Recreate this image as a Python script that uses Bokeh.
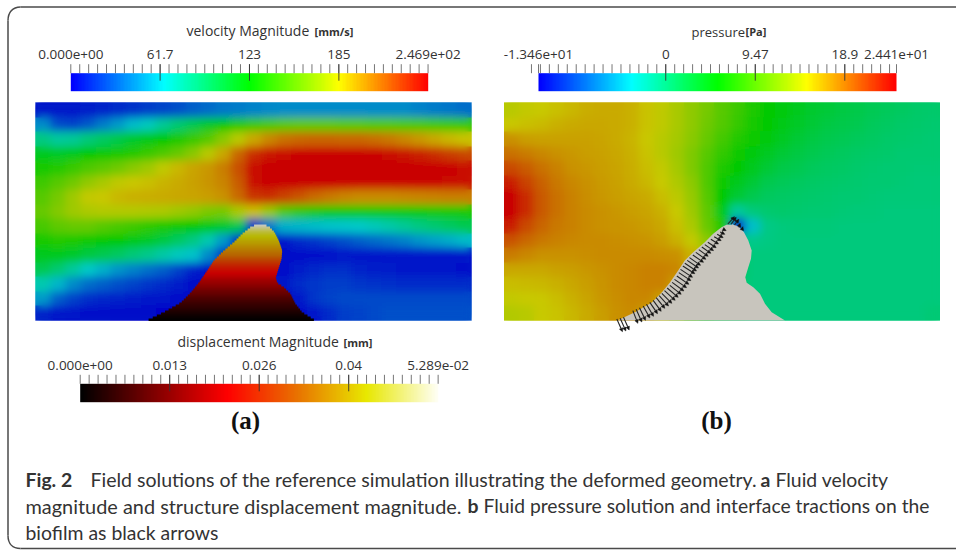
import numpy as np
from bokeh.plotting import figure
from bokeh.io import curdoc
from bokeh.models import Range1d, LinearColorMapper, ColumnDataSource, Arrow, NormalHead, CustomJS
from bokeh.core.properties import value
from bokeh.embed import file_html
from bokeh.resources import INLINE

# ---------- data ----------
VEL_MIN, VEL_MAX = 0.0, 246.9
VEL_MAJOR = [61.7, 123.45, 185.2]
VEL_LABELS = ["0.000e+00", "61.7", "123", "185", "2.469e+02"]
PRS_MIN, PRS_MAX = -13.46, 24.41
PRS_MAJOR = [0.0, 9.47, 18.94]
PRS_LABELS = ["-1.346e+01", "0", "9.47", "18.9", "2.441e+01"]
DSP_MIN, DSP_MAX = 0.0, 0.05289
DSP_MAJOR = [0.01322, 0.02645, 0.03967]
DSP_LABELS = ["0.000e+00", "0.013", "0.026", "0.04", "5.289e-02"]

# fluid speed, mm/s, top row first
VELOCITY = [
 [8,8,8,10,12,14,17,20,23,26,30,34,38,40,42,44,45,45,45,45,45,45,45,45,45,42,40,38,35],
 [45,25,22,28,40,50,60,68,80,90,100,112,125,135,140,145,150,152,152,152,150,150,148,148,146,145,142,140,138],
 [85,78,80,88,95,102,110,118,125,132,140,150,165,180,195,205,212,215,216,216,215,215,213,210,205,200,195,190,187],
 [115,112,115,122,126,130,135,140,147,155,165,180,195,215,232,240,244,246,246,246,246,246,246,244,240,236,232,228,224],
 [130,135,140,147,152,158,165,172,182,190,196,200,208,222,242,246,246,246,246,246,246,246,246,246,246,246,246,245,244],
 [142,150,158,168,175,182,186,188,191,194,197,201,206,218,242,246,246,246,246,246,246,246,246,246,246,246,246,244,242],
 [150,160,172,183,186,190,192,193,194,195,196,198,202,214,230,232,226,220,214,210,206,204,204,204,205,206,207,208,208],
 [155,163,172,176,178,178,178,177,176,172,168,162,160,175,188,170,148,138,132,128,126,126,126,126,126,128,130,131,131],
 [145,152,155,155,150,146,142,137,132,128,124,118,110,100,20,40,56,58,60,62,63,65,69,74,80,85,90,95,100],
 [130,135,132,128,125,122,118,112,105,95,85,72,50,15,5,5,8,14,18,22,26,30,34,38,42,48,52,55,60],
 [115,115,110,105,100,95,88,82,75,68,62,45,20,5,5,5,5,5,5,5,6,7,8,8,8,8,8,8,8],
 [100,90,78,65,56,48,42,36,30,22,12,5,5,5,5,5,5,10,13,15,15,12,10,9,8,8,8,6,5],
 [72,58,45,35,30,26,22,18,14,10,5,5,5,5,5,5,8,14,18,20,20,18,16,15,14,14,14,14,14],
 [50,30,22,15,13,11,10,8,6,5,3,3,3,3,3,3,3,8,18,22,24,24,24,24,24,24,24,24,24],
 [12,8,6,5,5,4,4,3,2,2,2,2,2,2,2,2,2,3,6,14,20,22,24,26,26,26,26,26,26],
]

# fluid pressure, Pa, top row first
PRESSURE = [
 [14.2,14.5,14.8,15.3,15.8,16.2,16.4,16.3,16,15.2,14.4,13.4,12.2,11,9.6,8.2,6.8,5.7,4.8,4,3.4,2.9,2.5,2.1,1.7,1.4,1.1,0.8,0.6],
 [15,15.3,15.6,16,16.3,16.5,16.5,16.4,16,15.2,14.4,13.4,12.2,10.8,9.4,7.9,6.6,5.5,4.5,3.7,3,2.5,2.1,1.8,1.4,1.1,0.8,0.6,0.5],
 [17.5,17,16.8,16.8,16.8,16.8,16.6,16.4,15.9,15,14.2,13.2,11.9,10.3,8.7,7.2,6,4.8,3.9,3.1,2.5,2,1.7,1.4,1.1,0.8,0.6,0.5,0.4],
 [19,18.5,18,17.5,17.2,17,16.8,16.5,16,15.2,14.2,13,11.4,9.6,7.8,6.2,5,3.9,3.1,2.5,2,1.6,1.3,1,0.8,0.6,0.4,0.3,0.3],
 [21,20,19,18.2,17.6,17.2,16.9,16.6,16.2,15.4,14.5,13.3,11.5,9.2,6.8,5.2,4,3,2.3,1.8,1.4,1.1,0.9,0.7,0.5,0.4,0.3,0.2,0.2],
 [23,21.3,19.8,18.7,18,17.5,17.1,16.8,16.4,15.7,14.8,13.7,12,9.3,6,4.2,3,2,1.6,1.3,1,0.8,0.6,0.5,0.4,0.3,0.2,0.1,0.1],
 [24.2,22.2,20.2,19,18.2,17.7,17.3,17,16.7,16.3,15.5,14.3,12.5,9.5,5.5,3,1.8,1.2,1,0.8,0.6,0.5,0.4,0.3,0.2,0.1,0.1,0.1,0.1],
 [24.2,22.2,20.2,19,18.3,17.8,17.5,17.2,17,16.7,16,14.8,13,10,4,-1.5,0,0.5,0.6,0.5,0.4,0.3,0.2,0.1,0.1,0,0,0,0],
 [23,21,19.6,18.7,18.2,17.9,17.6,17.4,17.2,17,16.5,15.3,13.5,10.5,7,-13,-4,-0.5,0,0.1,0.1,0.1,0,0,0,0,0,0,0],
 [20.5,19.5,18.7,18.2,18,17.9,17.8,17.7,17.5,17.4,17,16,14.5,12,6,0,-0.8,-0.3,-0.1,0,0,0,0,0,0,0,0,0,0],
 [18.5,18,17.6,17.6,17.6,17.7,17.8,17.8,17.8,17.8,17.7,17.5,16,14,8,2,0,0,0,0,0,0,0,0,0,0,0,0,0],
 [16.5,16.5,16.5,16.8,17,17.3,17.5,17.8,18,18.2,18.3,18,16,12,6,2,0,0,0,0,0,0,0,0,0,0,0,0,0],
 [15.5,15.6,15.8,16,16.5,17,17.4,17.8,18,18.2,18.3,17,14,10,5,1,0,0,0,0,0,0,0,0,0,0,0,0,0],
 [14.5,14.8,15,15.4,16,16.6,17.2,17.7,18,18,17,15,11,6,3,1,0,0,0,0,0,0,0,0,0,0,0,0,0],
 [13.8,14.2,14.8,15.2,15.8,16.4,17,17.5,17.8,17,15,12,8,4,2,1,0,0,0,0,0,0,0,0,0,0,0,0,0.2],
]

# biofilm outline, pixels inside panel a (left flank up to the tip, then right flank down)
FILM_LEFT_X = [146,163.3,180,190,198.3,206.7,213.3,221.7,233.3,241.7,250,255,261.7]
FILM_LEFT_Y = [320,311.7,302.3,292.3,282.3,270,260,251.7,241.7,233.3,226.7,224.3,223.7]
FILM_RIGHT_X = [261.7,268.3,274,278.3,281.7,281,278.3,275.3,276.7,283.3,290,295,301.7,315]
FILM_RIGHT_Y = [223.7,225.7,231.7,240,250,258.3,266.7,276.7,282.3,286.7,293.3,303.3,311.7,320]

# structure displacement, mm, for rows from the tip down to the base
FILM_DISP = [.0525,.050,.048,.046,.0445,.043,.042,.041,.040,.039,.038,.037,.036,.035,.034,.033,
             .0315,.030,.0285,.027,.0258,.0245,.0235,.0225,.0215,.0205,.0192,.018,.017,.016,.015,.014,
             .013,.012,.011,.010,.009,.0082,.0074,.0066,.0058,.005,.0042,.0034,.0026,.0018,.0012,.0006]

# interface tractions: tail position and vector, in 1/3 px around panel b's film
TRAC_X = [52,62,72,100,110,120,131,141,151,161,170,179,187,195,203,211,218,225,232,238,243,250,256,263,270,280,289,298,307,316,325,334,344,353,362,372,385,395,405,418,428]
TRAC_Y = [357,355,352,332,328,323,318,313,307,301,293,287,280,272,264,256,247,238,228,218,208,198,190,181,173,165,157,149,141,134,127,118,110,103,96,88,72,72,75,82,87]
TRAC_U = [17,17,17,15,17,18,20,21,23,24,26,28,30,32,33,34,35,36,36,36,36,36,35,34,33,32,30,28,27,26,25,23,21,18,14,8,20,15,13,4,2]
TRAC_V = [38,38,38,38,38,38,36,36,34,33,32,31,30,29,28,27,26,25,25,24,24,23,23,23,23,22,21,20,19,18,16,14,12,10,7,4,-22,-20,-17,-12,-7]

# ---------- palettes ----------
def ramp(stops, k=1.0):
    pos = [s[0] for s in stops]
    t = np.linspace(0, 1, 256)
    ch = [np.interp(t, pos, [s[i] * k for s in stops]) for i in (1, 2, 3)]
    return ["#%02x%02x%02x" % (int(r), int(g), int(b)) for r, g, b in zip(*ch)]

JET = [(0, 0, 0, 255), (.26, 0, 255, 255), (.5, 0, 255, 0), (.75, 255, 255, 0), (1, 255, 0, 0)]
HOT = [(0, 0, 0, 0), (.41, 255, 0, 0), (.615, 232, 120, 0), (.8, 232, 232, 0), (1, 255, 255, 245)]

vel_bar = LinearColorMapper(palette=ramp(JET), low=VEL_MIN, high=VEL_MAX)
prs_bar = LinearColorMapper(palette=ramp(JET), low=PRS_MIN, high=PRS_MAX)
dsp_bar = LinearColorMapper(palette=ramp(HOT), low=DSP_MIN, high=DSP_MAX)
vel_lit = LinearColorMapper(palette=ramp(JET, .79), low=VEL_MIN, high=VEL_MAX)
prs_lit = LinearColorMapper(palette=ramp(JET, .79), low=PRS_MIN, high=PRS_MAX)
dsp_lit = ramp(HOT, .79)

# ---------- figure ----------
p = figure(width=956, height=551, x_range=Range1d(0, 956), y_range=Range1d(551, 0),
           toolbar_location=None, output_backend="svg", min_border=0,
           outline_line_color=None, margin=(0, 0, 0, 0))
p.axis.visible = False
p.grid.visible = False

def scale_range(v0, v1, px0, px1):
    k = (v1 - v0) / (px1 - px0)
    return Range1d(v0 - px0 * k, v0 + (956 - px0) * k)

p.extra_x_ranges = {
    "vel": scale_range(VEL_MIN, VEL_MAX, 70.3, 427.7),
    "prs": scale_range(PRS_MIN, PRS_MAX, 538, 896),
    "dsp": scale_range(DSP_MIN, DSP_MAX, 79.7, 437.7),
}

# outer frame
FR = "#4a4a4a"
p.line([20, 956], [6.5, 6.5], line_color=FR, line_width=1.5)
p.line([7.5, 7.5], [20, 535], line_color=FR, line_width=1.5)
p.line([20, 956], [548, 548], line_color=FR, line_width=1.5)
p.bezier(x0=[7.5, 7.5], y0=[20, 535], x1=[20, 20], y1=[6.5, 548],
         cx0=[7.5, 7.5], cy0=[12, 543], cx1=[12, 12], cy1=[6.5, 548],
         line_color=FR, line_width=1.5)

# fields: each is drawn twice, the upper copy gets a soft focus in the browser
for grid, mapper, fx in ((VELOCITY, vel_lit, 35), (PRESSURE, prs_lit, 503.5)):
    for _ in range(2):
        p.image(image=[np.array(grid, dtype=float)], x=fx, y=102, dw=436, dh=218, color_mapper=mapper)

# biofilm
film_rows = 224 + 2 * np.arange(len(FILM_DISP))
film_l = np.interp(film_rows + 1, FILM_LEFT_Y[::-1], FILM_LEFT_X[::-1])
film_r = np.interp(film_rows + 1, FILM_RIGHT_Y, FILM_RIGHT_X)
p.quad(left=film_l, right=film_r, top=film_rows, bottom=film_rows + 2.4,
       fill_color=[dsp_lit[min(255, int(d / DSP_MAX * 255))] for d in FILM_DISP], line_color=None)
OFF = 468.5
p.patch(list(np.array(FILM_LEFT_X) + OFF + 2.5) + list(np.array(FILM_RIGHT_X) + OFF + 1),
        FILM_LEFT_Y + FILM_RIGHT_Y, fill_color="#c8c5bd", line_color=None)

# tractions
tx = 600 + np.array(TRAC_X) / 3 - 1
ty = 200 + np.array(TRAC_Y) / 3 - 0.5
src = ColumnDataSource(dict(x0=tx, y0=ty, x1=tx + np.array(TRAC_U) / 3, y1=ty + np.array(TRAC_V) / 3))
p.add_layout(Arrow(end=NormalHead(size=3.5, fill_color="#111111", line_color="#111111", line_width=0.5),
                   x_start="x0", y_start="y0", x_end="x1", y_end="y1", source=src,
                   line_color="#222222", line_width=1.1))

# colour bars
def bar(name, vmin, vmax, major, labels, mapper, y0, y1, step):
    p.image(image=[np.linspace(vmin, vmax, 256)[None, :]], x=vmin, y=y0, dw=vmax - vmin, dh=y1 - y0,
            color_mapper=mapper, x_range_name=name)
    k = int(np.ceil((major[0] - vmin) / step - 1e-6))
    n0 = major[0] - k * step
    minor = [n0 + i * step for i in range(int((vmax - n0) / step + 1e-6) + 1)]
    minor = [vmin] * (abs(n0 - vmin) > step / 3) + minor + [vmax] * (abs(minor[-1] - vmax) > step / 3)
    p.segment(minor, [y0 - 9] * len(minor), minor, [y0] * len(minor), line_color="#666666",
              line_width=0.9, x_range_name=name)
    p.segment(major, [y0 - 9] * len(major), major, [y0 + 7.5] * len(major), line_color="#333333",
              line_width=0.9, x_range_name=name)
    p.text([vmin] + major + [vmax], [y0 - 18.5] * 5, text=labels, text_font=value("Open Sans"),
           text_font_size="13.5px", text_color="#333333", text_align="center",
           text_baseline="middle", x_range_name=name)

bar("vel", VEL_MIN, VEL_MAX, VEL_MAJOR, VEL_LABELS, vel_bar, 72.7, 90.7, 6.17)
bar("prs", PRS_MIN, PRS_MAX, PRS_MAJOR, PRS_LABELS, prs_bar, 72.7, 90.7, 0.947)
bar("dsp", DSP_MIN, DSP_MAX, DSP_MAJOR, DSP_LABELS, dsp_bar, 383.3, 401.7, 0.001322)

def label(x, y, s, size, font="Open Sans", style="normal", color="#333333", align="left"):
    p.text([x], [y], text=[s], text_font=value(font), text_font_size=size, text_font_style=style,
           text_color=color, text_align=align, text_baseline="middle")

label(186, 30, "velocity Magnitude", "14px")
label(314, 31, "[mm/s]", "11px", style="bold")
label(691, 31, "pressure", "13px")
label(745, 31, "[Pa]", "11px", style="bold")
label(177, 341, "displacement Magnitude", "14px")
label(343, 342, "[mm]", "11px", style="bold")

label(245, 420, "(a)", "25px", "Liberation Serif", "bold", "#111111", "center")
label(716, 420, "(b)", "25px", "Liberation Serif", "bold", "#111111", "center")

CAP = "#333333"
label(25, 479, "Fig. 2", "19.4px", "Lato", "bold", CAP)
label(90, 479, "Field solutions of the reference simulation illustrating the deformed geometry.", "19.55px", "Lato", color=CAP)
label(760, 479, "a", "19.4px", "Lato", "bold", CAP)
label(775, 479, "Fluid velocity", "19.4px", "Lato", color=CAP)
label(25, 505, "magnitude and structure displacement magnitude.", "19.9px", "Lato", color=CAP)
label(467, 505, "b", "19.4px", "Lato", "bold", CAP)
label(483, 505, "Fluid pressure solution and interface tractions on the", "19.3px", "Lato", color=CAP)
label(25, 532, "biofilm as black arrows", "19.4px", "Lato", color=CAP)

# soft focus (the reference is a blurred photograph of the same kind of field)
soften = CustomJS(code="""
const imgs = [];
function walk(root) {
  root.querySelectorAll('*').forEach(e => {
    if (e.tagName.toLowerCase() === 'image' && e.getAttribute('width') === '436') imgs.push(e);
    if (e.shadowRoot) walk(e.shadowRoot);
  });
}
walk(document);
if (imgs.length) {
  const svg = imgs[0].ownerSVGElement, ns = 'http://www.w3.org/2000/svg';
  const f = document.createElementNS(ns, 'filter');
  f.setAttribute('id', 'soft');
  f.setAttribute('x', '0'); f.setAttribute('y', '0');
  f.setAttribute('width', '1'); f.setAttribute('height', '1');
  const b = document.createElementNS(ns, 'feGaussianBlur');
  b.setAttribute('stdDeviation', '4.5');
  b.setAttribute('edgeMode', 'duplicate');
  f.appendChild(b);
  svg.insertBefore(f, svg.firstChild);
  imgs.forEach((e, i) => { if (i % 2 === 1) e.setAttribute('filter', 'url(#soft)'); });
}
""")
doc = curdoc()
doc.add_root(p)
doc.js_on_event("document_ready", soften)

open("out.html", "w").write(file_html(p, INLINE))
